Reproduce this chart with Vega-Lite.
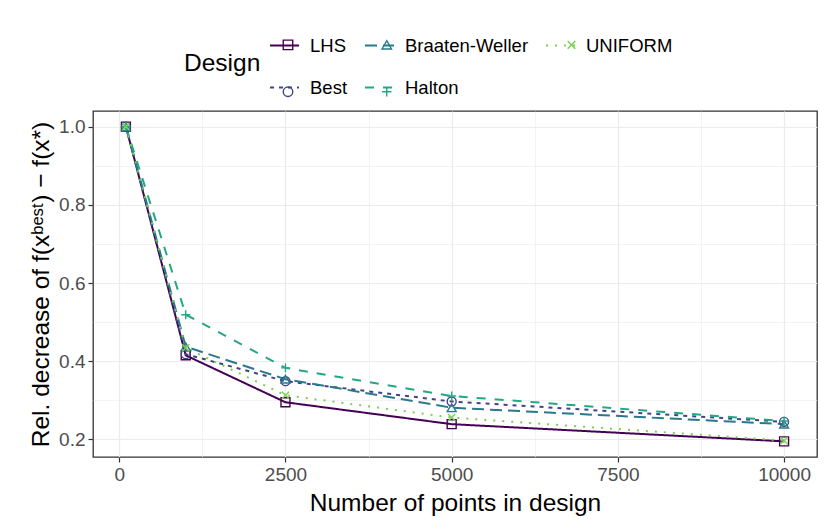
{
  "$schema": "https://vega.github.io/schema/vega-lite/v6.json",
  "width": 724,
  "height": 346,
  "autosize": {"type": "none"},
  "padding": {"left": 93, "top": 111, "right": 13, "bottom": 74},
  "background": "white",
  "config": {
    "font": "Liberation Sans",
    "view": {"stroke": "#333333", "strokeWidth": 1.3},
    "axis": {
      "domain": false,
      "tickColor": "#333333",
      "tickWidth": 1.2,
      "tickSize": 5,
      "labelFont": "Liberation Sans",
      "labelFontSize": 19,
      "labelColor": "#4D4D4D",
      "labelPadding": 3,
      "titleFont": "Liberation Sans",
      "titleFontSize": 24.5,
      "titleFontWeight": "normal",
      "titleColor": "#000000",
      "gridColor": "#EBEBEB",
      "gridWidth": 1.2
    },
    "legend": {
      "labelFont": "Liberation Sans",
      "labelFontSize": 18.5,
      "labelColor": "#000000",
      "titleFont": "Liberation Sans",
      "titleFontSize": 24.5,
      "titleFontWeight": "normal",
      "titleColor": "#000000",
      "padding": 0
    }
  },
  "data": {
    "values": [
      {"n": 100, "design": "LHS", "value": 1.0},
      {"n": 1000, "design": "LHS", "value": 0.415},
      {"n": 2500, "design": "LHS", "value": 0.295},
      {"n": 5000, "design": "LHS", "value": 0.239},
      {"n": 10000, "design": "LHS", "value": 0.195},
      {"n": 100, "design": "Best", "value": 1.0},
      {"n": 1000, "design": "Best", "value": 0.418},
      {"n": 2500, "design": "Best", "value": 0.349},
      {"n": 5000, "design": "Best", "value": 0.297},
      {"n": 10000, "design": "Best", "value": 0.245},
      {"n": 100, "design": "Braaten-Weller", "value": 1.0},
      {"n": 1000, "design": "Braaten-Weller", "value": 0.437},
      {"n": 2500, "design": "Braaten-Weller", "value": 0.354},
      {"n": 5000, "design": "Braaten-Weller", "value": 0.281},
      {"n": 10000, "design": "Braaten-Weller", "value": 0.239},
      {"n": 100, "design": "Halton", "value": 1.0},
      {"n": 1000, "design": "Halton", "value": 0.519},
      {"n": 2500, "design": "Halton", "value": 0.383},
      {"n": 5000, "design": "Halton", "value": 0.311},
      {"n": 10000, "design": "Halton", "value": 0.247},
      {"n": 100, "design": "UNIFORM", "value": 1.0},
      {"n": 1000, "design": "UNIFORM", "value": 0.434},
      {"n": 2500, "design": "UNIFORM", "value": 0.313},
      {"n": 5000, "design": "UNIFORM", "value": 0.256},
      {"n": 10000, "design": "UNIFORM", "value": 0.197}
    ]
  },
  "layer": [
    {
      "mark": {"type": "point", "opacity": 0},
      "encoding": {
        "x": {
          "field": "n", "type": "quantitative",
          "scale": {"domain": [-395, 10495], "nice": false, "zero": false},
          "axis": {"orient": "bottom", "values": [1250, 3750, 6250, 8750], "grid": true, "gridWidth": 0.6, "labels": false, "ticks": false, "title": null}
        },
        "y": {
          "field": "value", "type": "quantitative",
          "scale": {"domain": [0.155, 1.04], "nice": false, "zero": false},
          "axis": {"orient": "left", "values": [0.3, 0.5, 0.7, 0.9], "grid": true, "gridWidth": 0.6, "labels": false, "ticks": false, "title": null}
        }
      }
    },
    {
      "mark": {"type": "line", "strokeWidth": 2},
      "encoding": {
        "x": {
          "field": "n", "type": "quantitative",
          "axis": {"orient": "bottom", "values": [0, 2500, 5000, 7500, 10000], "format": "d", "grid": true, "title": "Number of points in design", "titlePadding": 7}
        },
        "y": {
          "field": "value", "type": "quantitative",
          "axis": {"orient": "left", "values": [0.2, 0.4, 0.6, 0.8, 1.0], "format": ".1f", "grid": true, "title": "Rel. decrease of f(xᵇᵉˢᵗ) − f(x*)", "titlePadding": 5}
        },
        "color": {
          "field": "design", "type": "nominal",
          "scale": {"domain": ["LHS", "Braaten-Weller", "UNIFORM", "Best", "Halton"], "range": ["#440154", "#2A788E", "#7AD151", "#414487", "#22A884"]},
          "legend": {
            "title": "Design", "orient": "none", "legendX": 91, "legendY": -81,
            "direction": "horizontal", "columns": 3, "titleOrient": "left", "titleAnchor": "middle", "titleBaseline": "middle", "titlePadding": 8,
            "symbolType": "stroke", "symbolSize": 841, "symbolStrokeWidth": 2, "labelOffset": 10, "columnPadding": 13, "rowPadding": 17
          }
        },
        "strokeDash": {
          "field": "design", "type": "nominal",
          "scale": {"domain": ["LHS", "Braaten-Weller", "UNIFORM", "Best", "Halton"], "range": [[1, 0], [12, 6], [2, 7], [4, 5], [9, 9]]}
        }
      }
    },
    {
      "mark": {"type": "point", "filled": false, "strokeWidth": 1.4, "size": 80, "opacity": 1},
      "encoding": {
        "x": {"field": "n", "type": "quantitative", "axis": null},
        "y": {"field": "value", "type": "quantitative", "axis": null},
        "stroke": {
          "field": "design", "type": "nominal",
          "scale": {"domain": ["LHS", "Braaten-Weller", "UNIFORM", "Best", "Halton"], "range": ["#440154", "#2A788E", "#7AD151", "#414487", "#22A884"]},
          "legend": {
            "title": "Design", "orient": "none", "legendX": 100.75, "legendY": -75.5,
            "direction": "horizontal", "columns": 3, "titleOrient": "left", "titleAnchor": "middle", "titleBaseline": "middle", "titlePadding": 8,
            "titleColor": "rgba(0,0,0,0)", "labelColor": "rgba(0,0,0,0)",
            "symbolSize": 90, "symbolStrokeWidth": 1.4, "symbolFillColor": "transparent", "labelOffset": 19.75, "columnPadding": 22.75, "rowPadding": 28
          }
        },
        "shape": {
          "field": "design", "type": "nominal",
          "scale": {"domain": ["LHS", "Braaten-Weller", "UNIFORM", "Best", "Halton"], "range": ["square", "triangle-up", "M-0.8,-0.8L0.8,0.8M-0.8,0.8L0.8,-0.8", "circle", "M-1,0H1M0,-1V1"]}
        }
      }
    }
  ],
  "resolve": {
    "axis": {"x": "independent", "y": "independent"},
    "legend": {"color": "independent", "strokeDash": "independent", "stroke": "independent", "shape": "independent"}
  }
}
